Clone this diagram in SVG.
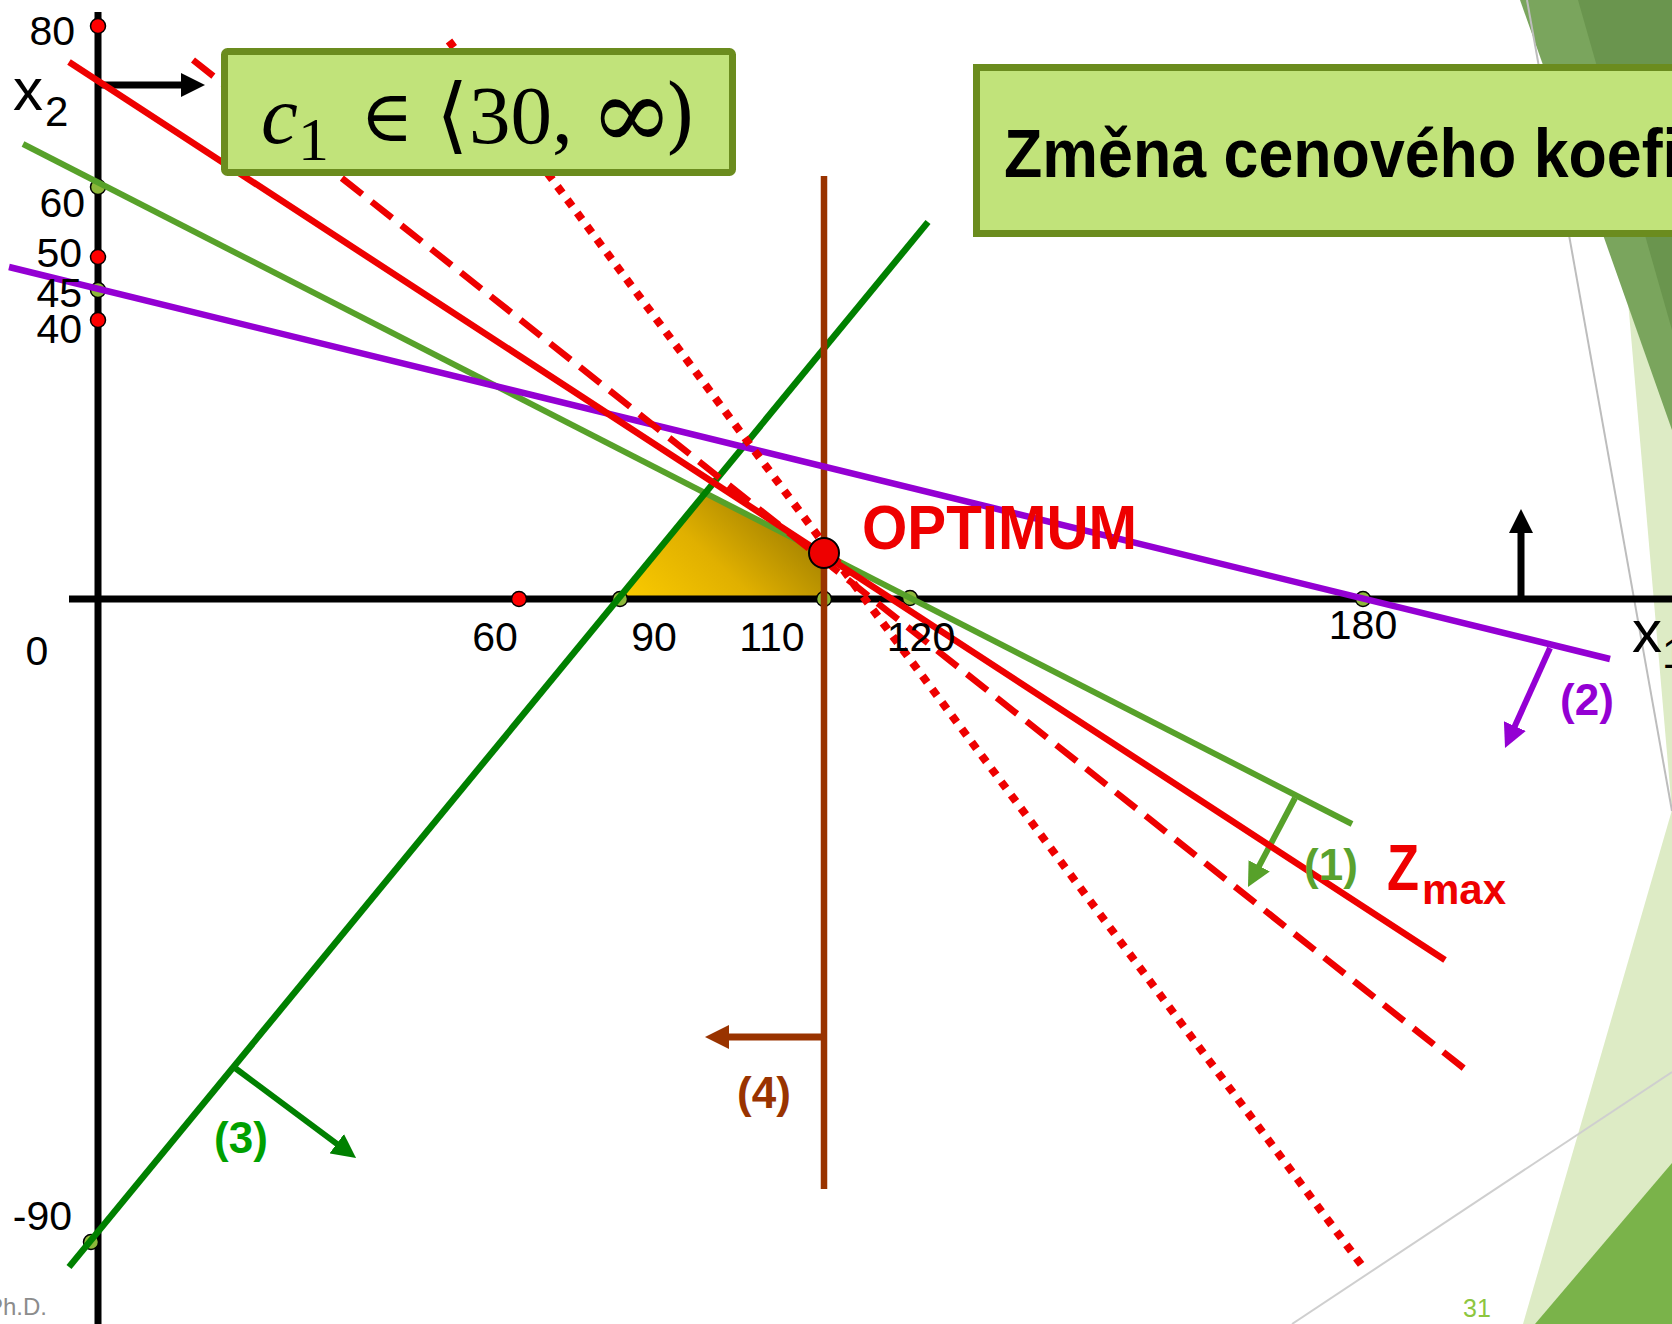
<svg xmlns="http://www.w3.org/2000/svg" width="1672" height="1324" viewBox="0 0 1672 1324">
<style>
.ax{stroke:#000;stroke-width:7;fill:none}
.lbl{font-family:"Liberation Sans",Arial,sans-serif;font-size:41px;fill:#000}
.bl{font-family:"Liberation Sans",Arial,sans-serif;font-weight:bold;font-size:44px}
.gdot{fill:#8DB83A;stroke:#000;stroke-width:1.5}
.rdot{fill:#FF0000;stroke:#000;stroke-width:1.5}
.box{fill:#C1E37A;stroke:#6B8C1E;stroke-width:7}
</style>
<defs>
<marker id="mk" viewBox="0 0 24 24" refX="6" refY="12" markerWidth="24" markerHeight="24" markerUnits="userSpaceOnUse" orient="auto"><path d="M0,0 L24,12 L0,24 z" fill="#000"/></marker>
<marker id="mg1" viewBox="0 0 24 24" refX="6" refY="12" markerWidth="24" markerHeight="24" markerUnits="userSpaceOnUse" orient="auto"><path d="M0,0 L24,12 L0,24 z" fill="#57A12A"/></marker>
<marker id="mp" viewBox="0 0 24 24" refX="6" refY="12" markerWidth="24" markerHeight="24" markerUnits="userSpaceOnUse" orient="auto"><path d="M0,0 L24,12 L0,24 z" fill="#9400D3"/></marker>
<marker id="mg3" viewBox="0 0 24 24" refX="6" refY="12" markerWidth="24" markerHeight="24" markerUnits="userSpaceOnUse" orient="auto"><path d="M0,0 L24,12 L0,24 z" fill="#008000"/></marker>
<marker id="mb" viewBox="0 0 24 24" refX="6" refY="12" markerWidth="24" markerHeight="24" markerUnits="userSpaceOnUse" orient="auto"><path d="M0,0 L24,12 L0,24 z" fill="#993300"/></marker>
<linearGradient id="gold" gradientUnits="userSpaceOnUse" x1="650" y1="610" x2="770" y2="480"><stop offset="0" stop-color="#F8C800"/><stop offset="0.45" stop-color="#E0B000"/><stop offset="1" stop-color="#9A7A00"/></linearGradient>
</defs>
<rect width="1672" height="1324" fill="#fff"/>
<g id="decor">
<polygon points="1615,150 1672,150 1672,811" fill="#DDEBC5"/>
<polygon points="1523,1324 1672,810 1672,1324" fill="#DDEBC5"/>
<polygon points="1520,0 1672,0 1672,430" fill="#7AA55D"/>
<polygon points="1578,0 1672,0 1672,330" fill="#6A954E"/>
<polygon points="1535,1324 1672,1163 1672,1324" fill="#7AB34A"/>
<line x1="1527" y1="0" x2="1672" y2="811" stroke="#BDBDBD" stroke-width="2"/>
<line x1="1292" y1="1324" x2="1672" y2="1072" stroke="#CFCFCF" stroke-width="2"/>
</g>
<g id="feasible"><polygon points="617,599 705,493 824,553 824,599" fill="url(#gold)"/></g>
<g id="axes">
<line class="ax" x1="98" y1="12" x2="98" y2="1324" stroke-width="8"/>
<line class="ax" x1="69" y1="599" x2="1672" y2="599"/>
<line class="ax" x1="98" y1="85" x2="187" y2="85" marker-end="url(#mk)"/>
<line class="ax" x1="1521" y1="599" x2="1521" y2="527" marker-end="url(#mk)"/>
</g>
<g id="gdots">
<circle class="gdot" cx="98" cy="187" r="7.5"/>
<circle class="gdot" cx="98" cy="290" r="7.5"/>
<circle class="gdot" cx="620" cy="599" r="7.5"/>
<circle class="gdot" cx="824" cy="599" r="7.5"/>
<circle class="gdot" cx="910" cy="598" r="7.5"/>
<circle class="gdot" cx="1363" cy="599" r="7.5"/>
<circle class="gdot" cx="91" cy="1242" r="7.5"/>
</g>
<g id="connectors" fill="none">
<line x1="23" y1="144" x2="1352" y2="824" stroke="#57A12A" stroke-width="6"/>
<line x1="1295" y1="798" x2="1256.4" y2="871.1" stroke="#57A12A" stroke-width="6" marker-end="url(#mg1)"/>
<line x1="69" y1="1267" x2="928" y2="222" stroke="#008000" stroke-width="6.5"/>
<line x1="235" y1="1068" x2="341.6" y2="1147.3" stroke="#008000" stroke-width="6" marker-end="url(#mg3)"/>
<line x1="824" y1="176" x2="824" y2="1189" stroke="#993300" stroke-width="6.5"/>
<line x1="824" y1="1037" x2="723" y2="1037" stroke="#993300" stroke-width="7" marker-end="url(#mb)"/>
<line x1="9" y1="267" x2="1610" y2="659" stroke="#9400D3" stroke-width="6.5"/>
<line x1="1550" y1="648" x2="1512.4" y2="731.6" stroke="#9400D3" stroke-width="6" marker-end="url(#mp)"/>
<line x1="69" y1="62" x2="1445" y2="960" stroke="#EE0000" stroke-width="6.5"/>
<line x1="193" y1="60" x2="1466" y2="1070" stroke="#EE0000" stroke-width="6.5" stroke-dasharray="26 12"/>
<line x1="449" y1="41" x2="1363" y2="1267" stroke="#EE0000" stroke-width="8" stroke-dasharray="8 8.5"/>
</g>
<g id="rdots">
<circle class="rdot" cx="98" cy="26" r="7.5"/>
<circle class="rdot" cx="98" cy="257" r="7.5"/>
<circle class="rdot" cx="98" cy="320" r="7.5"/>
<circle class="rdot" cx="519" cy="599" r="7.5"/>
</g>
<g id="optimum">
<circle cx="824" cy="553" r="15" fill="#EE0000" stroke="#000" stroke-width="2"/>
<text x="862" y="549" textLength="275" lengthAdjust="spacingAndGlyphs" style="font-family:'Liberation Sans',Arial,sans-serif;font-weight:bold;font-size:63px;fill:#EE0000">OPTIMUM</text>
</g>
<g id="axis-labels">
<text class="lbl" x="75" y="45" text-anchor="end">80</text>
<text class="lbl" x="85" y="217" text-anchor="end">60</text>
<text class="lbl" x="82" y="267" text-anchor="end">50</text>
<text class="lbl" x="82" y="307" text-anchor="end">45</text>
<text class="lbl" x="82" y="343" text-anchor="end">40</text>
<text class="lbl" x="72" y="1230" text-anchor="end">-90</text>
<text class="lbl" x="37" y="665" text-anchor="middle">0</text>
<text class="lbl" x="495" y="651" text-anchor="middle">60</text>
<text class="lbl" x="654" y="651" text-anchor="middle">90</text>
<text class="lbl" x="772" y="651" text-anchor="middle">110</text>
<text class="lbl" x="921" y="651" text-anchor="middle">120</text>
<text class="lbl" x="1363" y="639" text-anchor="middle">180</text>
<text class="lbl" x="13" y="110" style="font-size:60px">x<tspan x="45" y="126" style="font-size:42px">2</tspan></text>
<text class="lbl" x="1632" y="652" style="font-size:60px">x<tspan x="1662" y="668" style="font-size:42px">1</tspan></text>
</g>
<g id="constraint-labels">
<text class="bl" x="1331" y="880" text-anchor="middle" fill="#5AA22E">(1)</text>
<text class="bl" x="1587" y="715" text-anchor="middle" fill="#9400D3">(2)</text>
<text class="bl" x="241" y="1153" text-anchor="middle" fill="#00A000">(3)</text>
<text class="bl" x="764" y="1108" text-anchor="middle" fill="#993300">(4)</text>
<text class="bl" x="1387" y="890" fill="#EE0000"><tspan style="font-size:64px" textLength="32" lengthAdjust="spacingAndGlyphs">Z</tspan><tspan x="1422" y="904" style="font-size:42px">max</tspan></text>
</g>
<g id="c1-box">
<rect class="box" x="224.5" y="51.5" width="508" height="121" rx="3"/>
<text y="143" style="font-family:'Liberation Serif','DejaVu Serif',serif;font-size:83px;fill:#000"><tspan x="261" style="font-style:italic">c</tspan><tspan x="298" y="160" style="font-size:62px">1</tspan><tspan x="360" y="141" style="font-family:'DejaVu Serif',serif;font-size:72px">∈</tspan><tspan x="436" y="143" style="font-family:'DejaVu Serif',serif">⟨</tspan><tspan x="469" y="143">30,</tspan><tspan x="590" y="148" style="font-family:'DejaVu Serif',serif;font-size:100px">∞</tspan><tspan x="664" y="143" style="font-family:'DejaVu Serif',serif">)</tspan></text>
</g>
<g id="title">
<rect class="box" x="976.5" y="67.5" width="720" height="166"/>
<text x="1004" y="177" textLength="676" lengthAdjust="spacingAndGlyphs" style="font-family:'Liberation Sans',Arial,sans-serif;font-weight:bold;font-size:68px;fill:#000">Změna cenového koefi</text>
</g>
<g id="footer">
<text x="47" y="1315" text-anchor="end" style="font-family:'Liberation Sans',Arial,sans-serif;font-size:24px;fill:#8C8C8C">Ph.D.</text>
<text x="1463" y="1317" style="font-family:'Liberation Sans',Arial,sans-serif;font-size:25px;fill:#8DC63F">31</text>
</g>
</svg>
